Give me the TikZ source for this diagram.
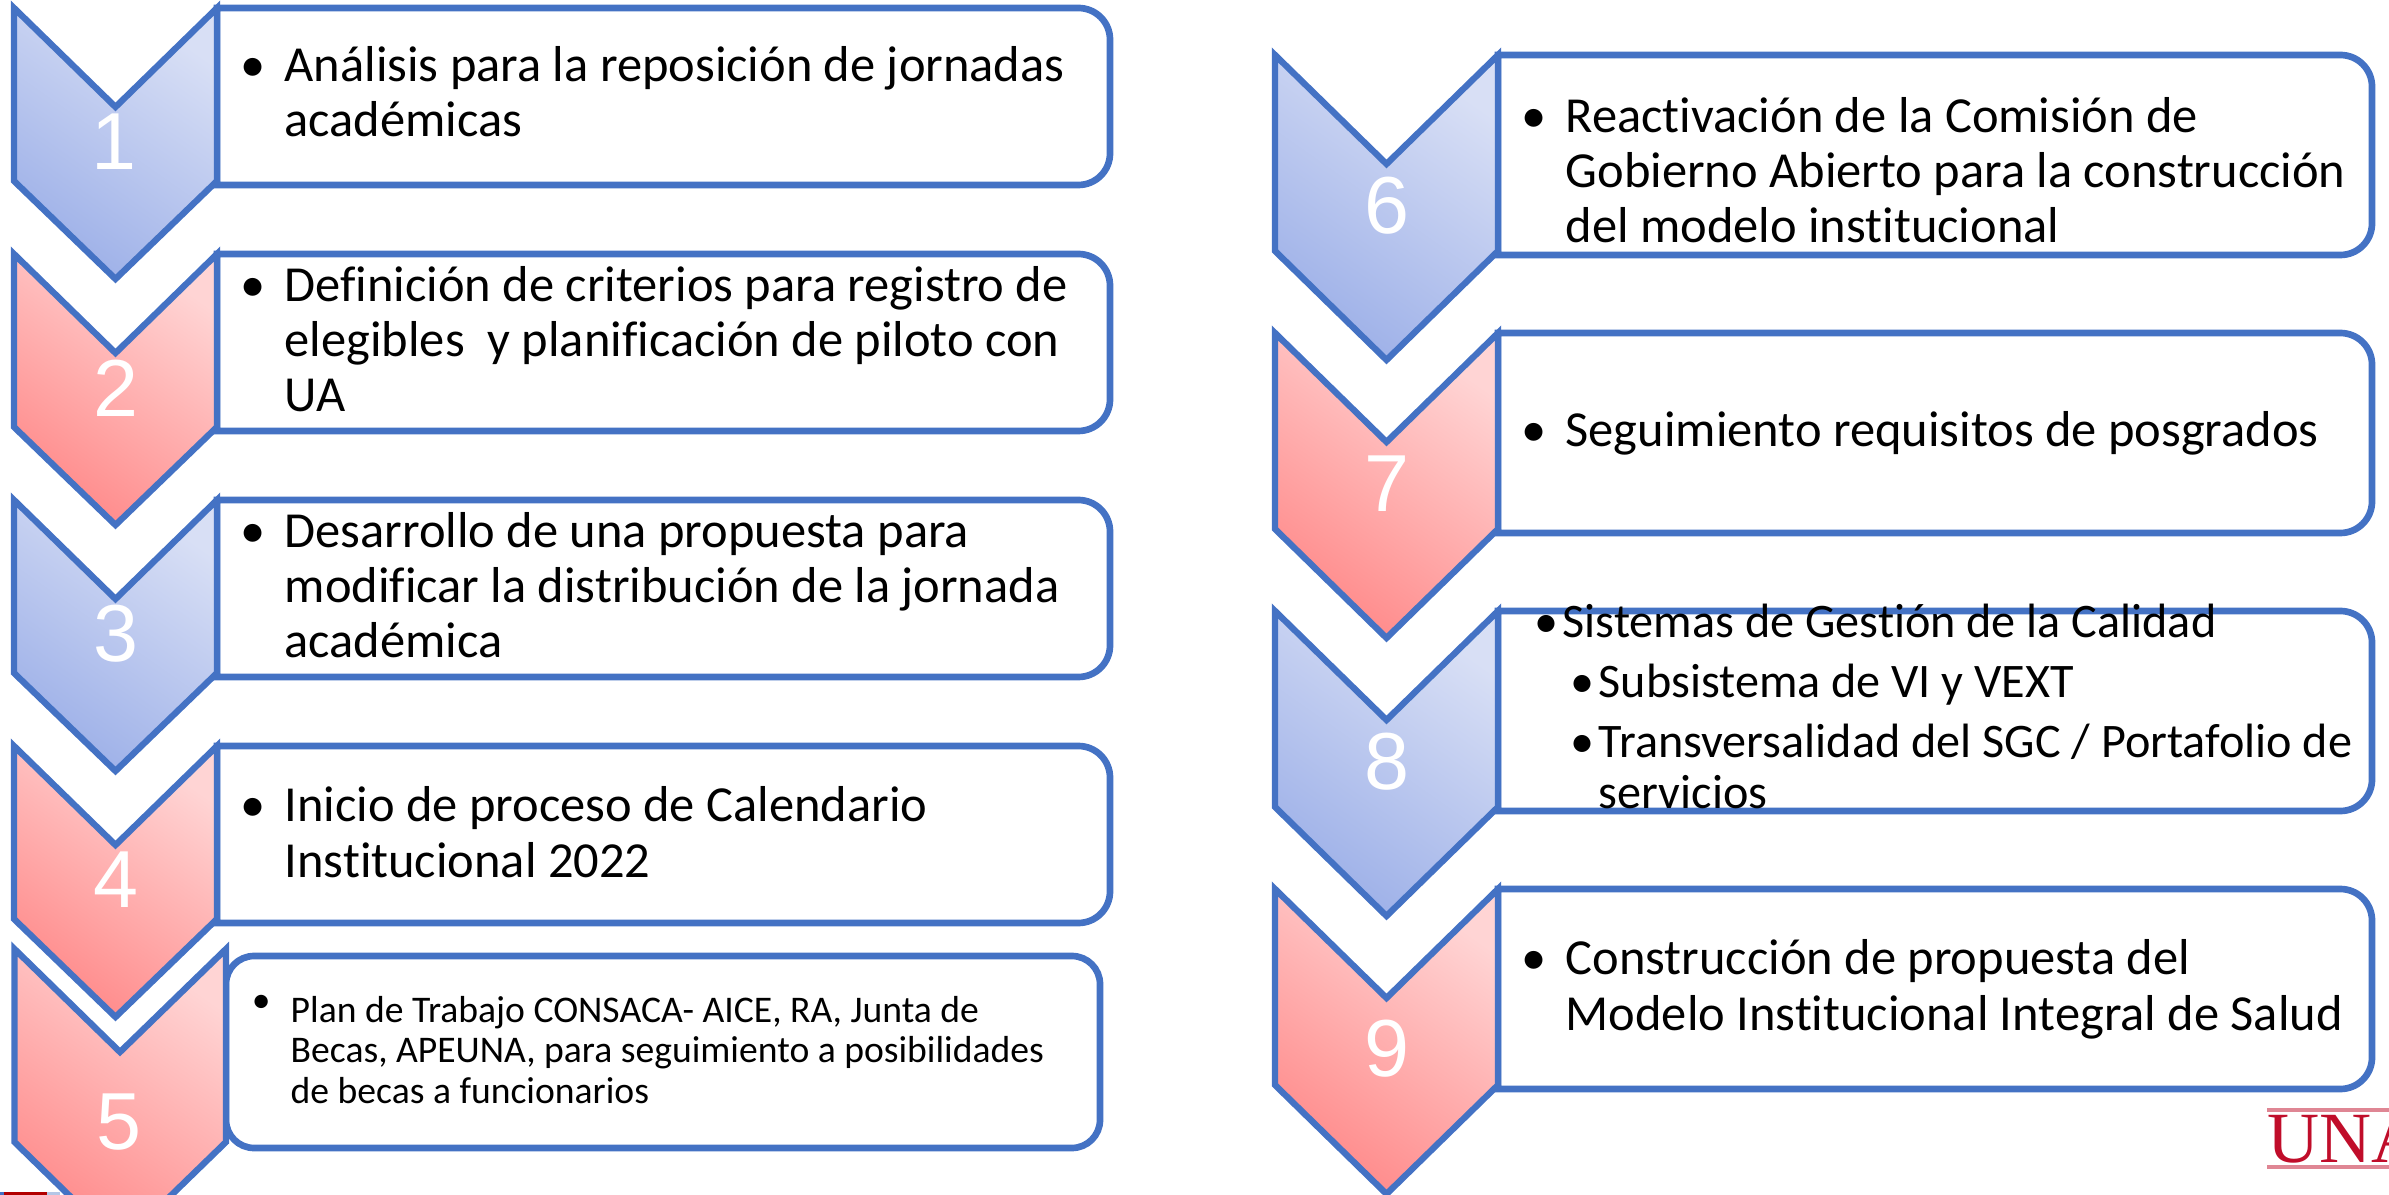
\documentclass[tikz,border=0pt]{standalone}
\usepackage{fontspec}
\setmainfont[Ligatures=NoCommon]{Carlito}
\newfontfamily\numfont{Liberation Sans}
\newfontfamily\logofont{Liberation Serif}
\definecolor{edgeblue}{HTML}{4472C4}
\definecolor{unared}{HTML}{C00D2A}
\definecolor{chevbluelight}{HTML}{D8DFF5}
\definecolor{chevbluedark}{HTML}{9DB0E8}
\definecolor{chevredlight}{HTML}{FFD4D4}
\definecolor{chevreddark}{HTML}{FF8A8A}
\tikzset{
    blueshade/.style={draw=edgeblue, line width=1.8pt, top color=chevbluelight, bottom color=chevbluedark, shading angle=-35},
    redshade/.style={draw=edgeblue, line width=1.8pt, top color=chevredlight, bottom color=chevreddark, shading angle=-35},
    numtext/.style={text=white, inner sep=0pt, font=\numfont\fontsize{23}{23}\selectfont},
    boxline/.style={draw=edgeblue, line width=1.9pt},
    bodytext/.style={anchor=base west, align=left, inner sep=0pt, font=\fontsize{14.35}{15.65}\selectfont},
    listtext/.style={anchor=base west, align=left, inner sep=0pt, font=\fontsize{13.7}{15}\selectfont},
    smalltext/.style={anchor=base west, align=left, inner sep=0pt, font=\fontsize{10.7}{11.4}\selectfont}
}
\begin{document}
\begin{tikzpicture}[x=0.01cm, y=-0.01cm]
    \useasboundingbox (0,0) rectangle (2389,1195);
    \clip (0,0) rectangle (2389,1195);

    % LEFT BOXES
    \draw[boxline] (217,8) [rounded corners=9pt] -- (1110,8) -- (1110,185) [sharp corners] -- (217,185) -- cycle;
    \draw[boxline] (217,254) [rounded corners=9pt] -- (1110,254) -- (1110,431) [sharp corners] -- (217,431) -- cycle;
    \draw[boxline] (217,500) [rounded corners=9pt] -- (1110,500) -- (1110,677) [sharp corners] -- (217,677) -- cycle;
    \draw[boxline] (217,746) [rounded corners=9pt] -- (1110,746) -- (1110,923) [sharp corners] -- (217,923) -- cycle;
    \draw[boxline, rounded corners=8pt] (226,956) rectangle (1100,1148);

    % RIGHT BOXES
    \draw[boxline] (1498,55) [rounded corners=9pt] -- (2372,55) -- (2372,255) [sharp corners] -- (1498,255) -- cycle;
    \draw[boxline] (1498,333) [rounded corners=9pt] -- (2372,333) -- (2372,533) [sharp corners] -- (1498,533) -- cycle;
    \draw[boxline] (1498,611) [rounded corners=9pt] -- (2372,611) -- (2372,811) [sharp corners] -- (1498,811) -- cycle;
    \draw[boxline] (1498,889) [rounded corners=9pt] -- (2372,889) -- (2372,1089) [sharp corners] -- (1498,1089) -- cycle;

    % LEFT CHEVRONS
    \path[blueshade] (14,8) -- (115.5,107) -- (217,8) -- (217,181) -- (115.5,279) -- (14,181) -- cycle;
    \path[redshade] (14,254) -- (115.5,353) -- (217,254) -- (217,427) -- (115.5,525) -- (14,427) -- cycle;
    \path[blueshade] (14,500) -- (115.5,599) -- (217,500) -- (217,673) -- (115.5,771) -- (14,673) -- cycle;
    \path[redshade] (14,746) -- (115.5,845) -- (217,746) -- (217,919) -- (115.5,1017) -- (14,919) -- cycle;
    \path[redshade] (14.5,949) -- (120,1052) -- (226,949) -- (226,1142) -- (120,1245) -- (14.5,1142) -- cycle;

    % RIGHT CHEVRONS
    \path[blueshade] (1275,55) -- (1386.5,164) -- (1498,55) -- (1498,251) -- (1386.5,360) -- (1275,251) -- cycle;
    \path[redshade] (1275,333) -- (1386.5,442) -- (1498,333) -- (1498,529) -- (1386.5,638) -- (1275,529) -- cycle;
    \path[blueshade] (1275,611) -- (1386.5,720) -- (1498,611) -- (1498,807) -- (1386.5,916) -- (1275,807) -- cycle;
    \path[redshade] (1275,889) -- (1386.5,998) -- (1498,889) -- (1498,1085) -- (1386.5,1194) -- (1275,1085) -- cycle;

    % NUMBERS
    \node[numtext] (n1) at (114,142) {1};
    \node[numtext] (n2) at (115.5,388) {2};
    \node[numtext] (n3) at (115.5,634) {3};
    \node[numtext] (n4) at (115.5,880) {4};
    \node[numtext] (n5) at (118.5,1122) {5};
    \node[numtext] (n6) at (1386.5,206) {6};
    \node[numtext] (n7) at (1386.5,484) {7};
    \node[numtext] (n8) at (1386.5,762) {8};
    \node[numtext] (n9) at (1386.5,1049) {9};

    % LEFT TEXT
    \node[bodytext] (t1) at (284,137) {\llap{\textbullet\hspace{1.9mm}}Análisis para la reposición de jornadas\\académicas};
    \node[bodytext] (t2) at (284,412) {\llap{\textbullet\hspace{1.9mm}}Definición de criterios para registro de\\elegibles\ \ y planificación de piloto con\\UA};
    \node[bodytext] (t3) at (284,658) {\llap{\textbullet\hspace{1.9mm}}Desarrollo de una propuesta para\\modificar la distribución de la jornada\\académica};
    \node[bodytext] (t4) at (284,877) {\llap{\textbullet\hspace{1.9mm}}Inicio de proceso de Calendario\\Institucional 2022};
    \node[smalltext] (t5) at (290,1103) {\llap{\raisebox{1mm}{\textbullet}\hspace{2mm}}Plan de Trabajo CONSACA- AICE, RA, Junta de\\Becas, APEUNA, para seguimiento a posibilidades\\de becas a funcionarios};

    % RIGHT TEXT
    \node[bodytext] (t6) at (1565,243) {\llap{\textbullet\hspace{1.9mm}}Reactivación de la Comisión de\\Gobierno Abierto para la construcción\\del modelo institucional};
    \node[bodytext] (t7) at (1565,447) {\llap{\textbullet\hspace{1.9mm}}Seguimiento requisitos de posgrados};
    \node[listtext] (t8a) at (1562,638) {\llap{\textbullet\hspace{0.4mm}}Sistemas de Gestión de la Calidad};
    \node[listtext] (t8b) at (1598,698) {\llap{\textbullet\hspace{0.4mm}}Subsistema de VI y VEXT};
    \node[listtext] (t8c) at (1598,757) {\llap{\textbullet\hspace{0.4mm}}Transversalidad del SGC / Portafolio de};
    \node[listtext] (t8d) at (1598,808) {servicios};
    \node[bodytext] (t9) at (1565,1030) {\llap{\textbullet\hspace{1.9mm}}Construcción de propuesta del\\Modelo Institucional Integral de Salud};

    % LOGO
    \draw[unared!50, line width=0.9pt] (2267,1110) -- (2389,1110);
    \draw[unared!50, line width=0.9pt] (2267,1167) -- (2389,1167);
    \node[text=unared, anchor=base west, inner sep=0pt, font=\logofont\fontsize{20.5}{20.5}\selectfont] (logo) at (2267,1162) {UNA};

    % STRIP AT THE FOOT
    \fill[edgeblue] (0,1192) rectangle (4,1195);
    \fill[red!70!black] (4,1192) rectangle (47,1195);
    \fill[edgeblue!40] (47,1192) rectangle (60,1195);
\end{tikzpicture}
\end{document}
